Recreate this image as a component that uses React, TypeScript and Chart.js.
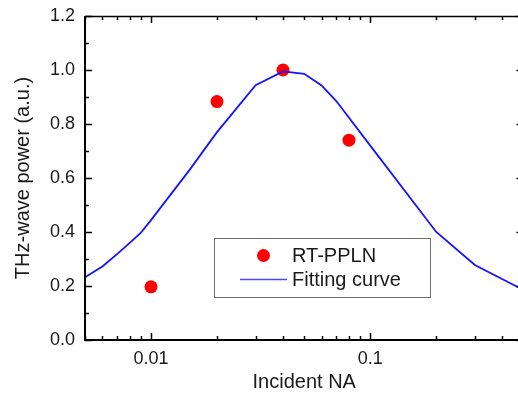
import React, { useEffect, useRef } from "react";
import { Chart, registerables } from "chart.js";

Chart.register(...registerables);

// Measured data (RT-PPLN)
const measuredNA = [0.01, 0.02, 0.04, 0.08];
const measuredPower = [0.197, 0.883, 1.0, 0.74];

// Fitting curve
const fitNA = [0.005, 0.006, 0.007, 0.008, 0.009, 0.01, 0.015, 0.02, 0.03, 0.04, 0.05, 0.06, 0.07, 0.1, 0.2, 0.3, 0.5];
const fitPower = [0.232, 0.272, 0.318, 0.36, 0.398, 0.444, 0.63, 0.77, 0.944, 0.995, 0.986, 0.943, 0.885, 0.72, 0.4, 0.278, 0.185];

// Axis ticks
const xTickLabels = [0.01, 0.1];
const yTickLabels = [0, 0.2, 0.4, 0.6, 0.8, 1.0, 1.2];

const seriesNames = ["RT-PPLN", "Fitting curve"];

const FONT = "Arial, 'Liberation Sans', Helvetica, sans-serif";

const framePlugin = {
  id: "framePlugin",
  afterDraw(chart: any) {
    const { ctx, chartArea } = chart;
    const xs = chart.scales.x;
    const ys = chart.scales.y;
    const { left, right, top, bottom } = chartArea;
    ctx.save();
    ctx.strokeStyle = "#000";
    ctx.lineCap = "butt";
    ctx.lineWidth = 1.5;
    const major = 7;
    const minor = 4;
    const xMinors: number[] = [];
    for (let d = 0.001; d < 1; d *= 10) {
      for (let k = 1; k < 10; k++) {
        const v = +(d * k).toPrecision(3);
        if (v >= 0.005 && v <= 0.5) xMinors.push(v);
      }
    }
    ctx.beginPath();
    xMinors.forEach((v) => {
      const px = Math.round(xs.getPixelForValue(v)) + 0.5;
      const len = xTickLabels.includes(v) ? major : minor;
      ctx.moveTo(px, bottom);
      ctx.lineTo(px, bottom - len);
      ctx.moveTo(px, top);
      ctx.lineTo(px, top + len);
    });
    for (let i = 0; i <= 12; i++) {
      const v = i / 10;
      const py = Math.round(ys.getPixelForValue(v)) + 0.5;
      const len = i % 2 === 0 ? major : minor;
      ctx.moveTo(left, py);
      ctx.lineTo(left + len, py);
      ctx.moveTo(right, py);
      ctx.lineTo(right - len, py);
    }
    ctx.stroke();
    ctx.lineWidth = 1.5;
    ctx.beginPath();
    ctx.moveTo(left, top + 0.5);
    ctx.lineTo(right, top + 0.5);
    ctx.moveTo(right, top);
    ctx.lineTo(right, bottom);
    ctx.stroke();
    ctx.lineWidth = 2;
    ctx.beginPath();
    ctx.moveTo(left, top);
    ctx.lineTo(left, bottom);
    ctx.lineTo(right, bottom);
    ctx.stroke();

    // legend
    const bx = 214, by = 238, bw = 216, bh = 59;
    ctx.fillStyle = "#fff";
    ctx.fillRect(bx, by, bw, bh);
    ctx.lineWidth = 1;
    ctx.strokeStyle = "#6e6e6e";
    ctx.strokeRect(bx + 0.5, by + 0.5, bw, bh);
    ctx.fillStyle = "#ff0000";
    ctx.beginPath();
    ctx.arc(263.5, 255.5, 6.5, 0, Math.PI * 2);
    ctx.fill();
    ctx.strokeStyle = "#4a4aff";
    ctx.lineWidth = 1.5;
    ctx.beginPath();
    ctx.moveTo(240, 279.5);
    ctx.lineTo(287, 279.5);
    ctx.stroke();
    ctx.fillStyle = "#1a1a1a";
    ctx.font = `20px ${FONT}`;
    ctx.textBaseline = "middle";
    ctx.textAlign = "left";
    ctx.fillText(seriesNames[0], 292, 256);
    ctx.fillText(seriesNames[1], 292, 280);
    ctx.restore();
  },
};

export default function App() {
  const ref = useRef<HTMLCanvasElement | null>(null);
  useEffect(() => {
    if (!ref.current) return;
    const chart = new Chart(ref.current, {
      type: "scatter",
      data: {
        datasets: [
          {
            type: "line",
            label: seriesNames[1],
            data: fitNA.map((x, i) => ({ x, y: fitPower[i] })),
            borderColor: "#1414ff",
            borderWidth: 1.8,
            pointRadius: 0,
            fill: false,
            tension: 0,
            order: 0,
          } as any,
          {
            type: "scatter",
            label: seriesNames[0],
            data: measuredNA.map((x, i) => ({ x, y: measuredPower[i] })),
            backgroundColor: "#ff0000",
            borderColor: "#ff0000",
            borderWidth: 0,
            pointRadius: 6.5,
            order: 1,
          },
        ],
      },
      options: {
        responsive: false,
        animation: false,
        devicePixelRatio: 1,
        layout: { padding: { left: 0, right: 6, top: 16, bottom: 0 } },
        plugins: { legend: { display: false }, tooltip: { enabled: false } },
        scales: {
          x: {
            type: "logarithmic",
            min: 0.005,
            max: 0.5,
            grid: { display: false, drawTicks: false, tickLength: 0 },
            border: { display: false },
            afterBuildTicks: (s: any) => {
              s.ticks = xTickLabels.map((v) => ({ value: v }));
            },
            afterFit: (s: any) => {
              s.height = 54;
              s.paddingLeft = 0;
              s.paddingRight = 0;
            },
            ticks: {
              padding: 8,
              autoSkip: false,
              maxRotation: 0,
              color: "#1a1a1a",
              font: { family: FONT, size: 18 },
              callback: (v: any) => String(v),
            },
            title: {
              display: true,
              text: "Incident NA",
              color: "#1a1a1a",
              font: { family: FONT, size: 20 },
              padding: { top: 0, bottom: 0 },
            },
          },
          y: {
            min: 0,
            max: 1.2,
            grid: { display: false, drawTicks: false, tickLength: 0 },
            border: { display: false },
            afterBuildTicks: (s: any) => {
              s.ticks = yTickLabels.map((v) => ({ value: v }));
            },
            afterFit: (s: any) => {
              s.width = 85;
              s.paddingTop = 0;
              s.paddingBottom = 0;
            },
            ticks: {
              padding: 10,
              color: "#1a1a1a",
              font: { family: FONT, size: 18 },
              callback: (v: any) => Number(v).toFixed(1),
            },
            title: {
              display: true,
              text: "THz-wave power (a.u.)",
              color: "#1a1a1a",
              font: { family: FONT, size: 20 },
              padding: { top: 11, bottom: 0 },
            },
          },
        },
      },
      plugins: [framePlugin],
    });
    return () => chart.destroy();
  }, []);
  return (
    <div
      style={{
        position: "absolute",
        left: 0,
        top: 0,
        width: 518,
        height: 394,
        overflow: "hidden",
        background: "#fff",
      }}
    >
      <canvas ref={ref} width={530} height={394} style={{ display: "block" }} />
    </div>
  );
}
